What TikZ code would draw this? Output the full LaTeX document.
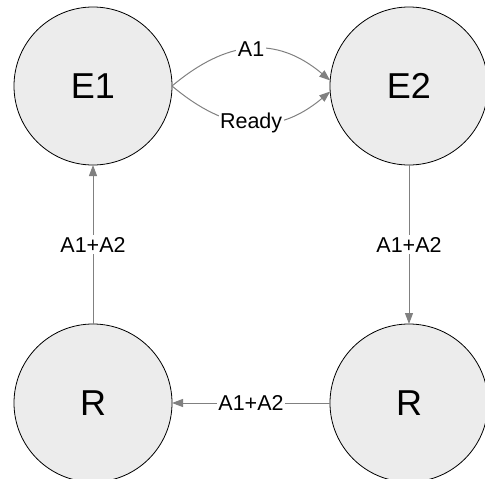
\documentclass[tikz,border=0pt]{standalone}
\usepackage{fontspec}
\setmainfont{Liberation Sans}
\usetikzlibrary{arrows.meta}
\definecolor{statefill}{RGB}{236,236,236}
\definecolor{edgegray}{RGB}{128,128,128}
\begin{document}
\begin{tikzpicture}[x=1pt,y=-1pt,inner sep=0pt,outer sep=0pt,
state/.style={draw,circle,fill=statefill,line width=0.8pt,minimum size=158pt,font=\fontsize{36}{40}\selectfont},
trans/.style={draw=edgegray,line width=1pt,-{Triangle[length=11pt,width=8pt]}},
lbl/.style={fill=white,inner sep=1.5pt,font=\fontsize{21.5}{24}\selectfont,text=black}]
\useasboundingbox (0,0) rectangle (485,479);

\draw (93,86) node[state] (E1) {E1};
\draw (409,86) node[state] (E2) {E2};
\draw (93,403) node[state] (R1) {R};
\draw (409,403) node[state] (R2) {R};

\draw[trans] (E1.east) to[out=40,in=140,looseness=1.15] node[lbl] {A1} (E2.176);
\draw[trans] (E1.east) to[out=-40,in=-140,looseness=1.15] node[lbl] {Ready} (E2.184);
\draw[trans] (E2) -- node[lbl] {A1+A2} (R2);
\draw[trans] (R2) -- node[lbl] {A1+A2} (R1);
\draw[trans] (R1) -- node[lbl] {A1+A2} (E1);
\end{tikzpicture}
\end{document}
